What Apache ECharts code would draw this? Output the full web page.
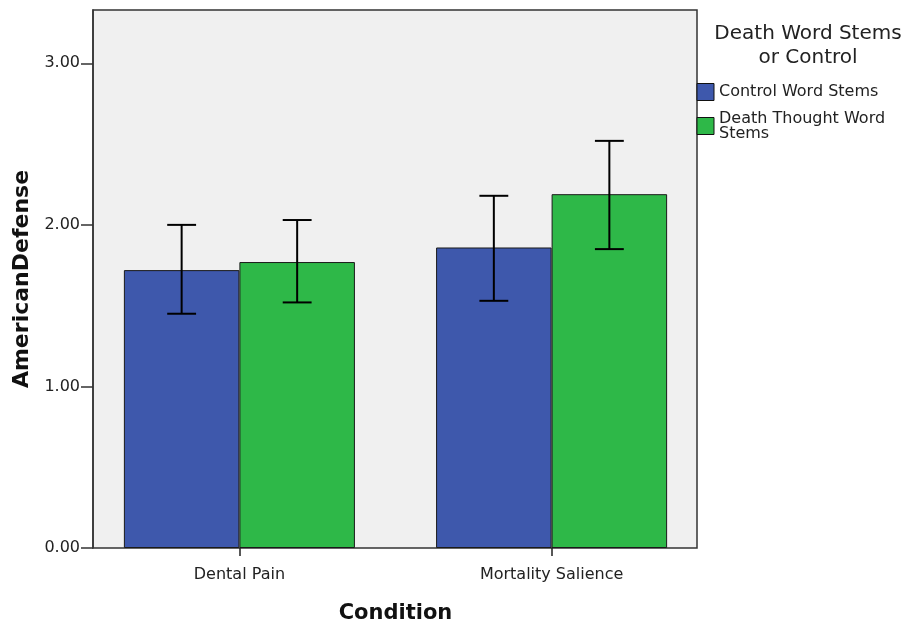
<!DOCTYPE html>
<html>
<head>
<meta charset="utf-8">
<script src="https://cdn.jsdelivr.net/npm/echarts@6/dist/echarts.min.js"></script>
<style>html,body{margin:0;padding:0;background:#fff;}#c{width:908px;height:626px;}</style>
</head>
<body>
<div id="c"></div>
<script>
var categories = ['Dental Pain', 'Mortality Salience'];
var seriesNames = ['Control Word Stems', 'Death Thought Word Stems'];
var controlMeans = [1.72, 1.86];
var controlLow = [1.45, 1.53];
var controlHigh = [2.00, 2.18];
var deathMeans = [1.77, 2.19];
var deathLow = [1.52, 1.85];
var deathHigh = [2.03, 2.52];
var yTicks = [0, 1, 2, 3];

var FONT = 'DejaVu Sans';
var CAT_GAP = 0.26;

var errData = [];
for (var i = 0; i < categories.length; i++) {
  errData.push([i, controlLow[i], controlHigh[i], -1]);
  errData.push([i, deathLow[i], deathHigh[i], 1]);
}

var chart = echarts.init(document.getElementById('c'));
chart.setOption({
  animation: false,
  backgroundColor: '#ffffff',
  grid: [
    {left: 93, top: 10, width: 604, height: 538, show: true, backgroundColor: '#F0F0F0', borderColor: '#333', borderWidth: 1.5,
     outerBoundsMode: 'none', containLabel: false},
    {left: 83.3, top: 10, width: 624.4, height: 538, show: false, outerBoundsMode: 'none', containLabel: false}
  ],
  xAxis: [
    {type: 'category', gridIndex: 0, data: categories, show: false},
    {type: 'category', gridIndex: 1, data: categories,
     axisLine: {show: false},
     axisTick: {show: true, alignWithLabel: true, length: 8, lineStyle: {color: '#222', width: 1.5}},
     axisLabel: {margin: 19, fontFamily: FONT, fontSize: 16, color: '#222'},
     name: 'Condition', nameLocation: 'middle', nameGap: 55,
     nameTextStyle: {fontFamily: FONT, fontSize: 21, fontWeight: 'bold', color: '#111'}}
  ],
  yAxis: [
    {type: 'value', gridIndex: 0, min: 0, max: 3.33, interval: 1,
     splitLine: {show: false},
     axisLine: {show: true, lineStyle: {color: '#333', width: 1.5}},
     axisTick: {show: true, inside: false, length: 12, customValues: yTicks, lineStyle: {color: '#333', width: 1.5}},
     axisLabel: {margin: 13, customValues: yTicks, fontFamily: FONT, fontSize: 16, color: '#222',
                 formatter: function (v) { return v.toFixed(2); }},
     name: 'AmericanDefense', nameLocation: 'middle', nameGap: 60, nameRotate: 90,
     nameTextStyle: {fontFamily: FONT, fontSize: 22, fontWeight: 'bold', color: '#111'}},
    {type: 'value', gridIndex: 1, min: 0, max: 3.33, show: false, splitLine: {show: false}}
  ],
  legend: {
    orient: 'vertical', left: 696.5, top: 83, padding: 0, itemWidth: 17, itemHeight: 17, itemGap: 9.5,
    icon: 'rect', data: seriesNames,
    itemStyle: {borderColor: '#111', borderWidth: 1},
    textStyle: {fontFamily: FONT, fontSize: 16, lineHeight: 15, color: '#222'},
    formatter: function (n) { return n === 'Death Thought Word Stems' ? 'Death Thought Word\nStems' : n; }
  },
  graphic: [
    {type: 'text', x: 808, y: 46,
     style: {text: 'Death Word Stems\nor Control', align: 'center', verticalAlign: 'middle',
             fontFamily: FONT, fontSize: 20, lineHeight: 24, fill: '#222'}}
  ],
  series: [
    {name: seriesNames[0], type: 'bar', xAxisIndex: 1, yAxisIndex: 1, data: controlMeans,
     barGap: '0%', barCategoryGap: (CAT_GAP * 100) + '%',
     itemStyle: {color: '#3E58AC', borderColor: '#1a1a1a', borderWidth: 1}},
    {name: seriesNames[1], type: 'bar', xAxisIndex: 1, yAxisIndex: 1, data: deathMeans,
     barGap: '0%', barCategoryGap: (CAT_GAP * 100) + '%',
     itemStyle: {color: '#2EB848', borderColor: '#1a1a1a', borderWidth: 1}},
    {name: 'err', type: 'custom', xAxisIndex: 1, yAxisIndex: 1, data: errData, z: 10,
     renderItem: function (params, api) {
       var cat = api.value(0), lo = api.value(1), hi = api.value(2), side = api.value(3);
       var band = api.size([1, 0])[0];
       var barW = band * (1 - CAT_GAP) / 2;
       var pLo = api.coord([cat, lo]);
       var pHi = api.coord([cat, hi]);
       var x = pLo[0] + side * barW / 2;
       var cap = barW * 0.125;
       var st = {stroke: '#000', lineWidth: 2};
       return {type: 'group', children: [
         {type: 'line', shape: {x1: x, y1: pLo[1], x2: x, y2: pHi[1]}, style: st},
         {type: 'line', shape: {x1: x - cap, y1: pHi[1], x2: x + cap, y2: pHi[1]}, style: st},
         {type: 'line', shape: {x1: x - cap, y1: pLo[1], x2: x + cap, y2: pLo[1]}, style: st}
       ]};
     }}
  ]
});
</script>
</body>
</html>
